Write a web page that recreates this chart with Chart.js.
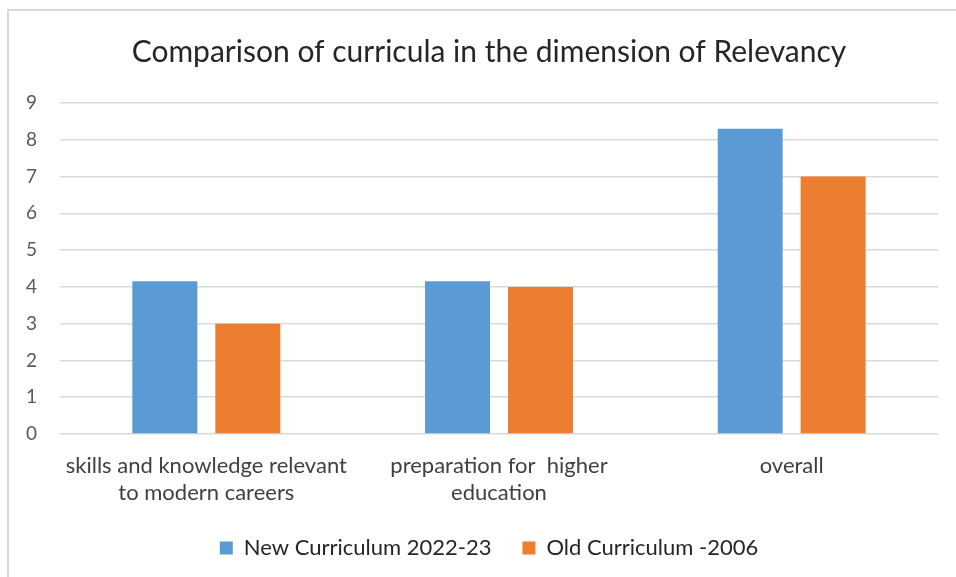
<!DOCTYPE html>
<html>
<head>
<meta charset="utf-8">
<script src="https://cdn.jsdelivr.net/npm/chart.js@4"></script>
<style>
  html, body { margin: 0; padding: 0; background: #fff; }
  #wrap { position: relative; width: 956px; height: 577px; overflow: hidden; }
  #frame {
    position: absolute; left: 7px; top: 9px; width: 980px; height: 600px;
    border: 2px solid #d9d9d9; box-sizing: border-box; pointer-events: none;
  }
  canvas { position: absolute; left: 0; top: 0; }
</style>
</head>
<body>
<div id="wrap">
  <canvas class="chart" width="956" height="577"></canvas>
  <div id="frame"></div>
</div>
<script>
  let categories = [
    ["skills and knowledge relevant", "to modern careers"],
    ["preparation for  higher", "education"],
    "overall",
  ];
  let newCurriculum = [4.15, 4.15, 8.3];
  let oldCurriculum = [3, 4, 7];
  let seriesNames = ["New Curriculum 2022-23", "Old Curriculum -2006"];
  let yTicks = [0, 1, 2, 3, 4, 5, 6, 7, 8, 9];

  let fontFamily = "Lato, 'Open Sans', sans-serif";

  let canvasElement = document.querySelector(".chart");
  let config = {
    type: "bar",
    data: {
      labels: categories,
      datasets: [
        {
          label: seriesNames[0],
          data: newCurriculum,
          backgroundColor: "#5b9bd5",
          categoryPercentage: 0.567,
          barPercentage: 0.783,
        },
        {
          label: seriesNames[1],
          data: oldCurriculum,
          backgroundColor: "#ed7d31",
          categoryPercentage: 0.567,
          barPercentage: 0.783,
        },
      ],
    },
    options: {
      responsive: false,
      animation: false,
      events: [],
      layout: { padding: { left: 40, right: 18, top: 0, bottom: 8 } },
      plugins: {
        title: {
          display: true,
          text: "Comparison of curricula in the dimension of Relevancy",
          color: "#262626",
          font: { family: fontFamily, size: 30, weight: "normal" },
          padding: { top: 34, bottom: 33 },
        },
        legend: {
          position: "bottom",
          labels: {
            color: "#262626",
            font: { family: fontFamily, size: 22 },
            boxWidth: 13,
            boxHeight: 13,
            padding: 31,
          },
        },
        tooltip: { enabled: false },
      },
      scales: {
        y: {
          min: 0,
          max: 9,
          afterBuildTicks: (scale) => {
            scale.ticks = yTicks.map((v) => ({ value: v }));
          },
          afterFit: (scale) => {
            scale.width = 20;
          },
          ticks: {
            // mirrored labels are not clipped to the narrow axis box
            mirror: true,
            color: "#595959",
            font: { family: fontFamily, size: 19 },
            padding: -34,
          },
          grid: { color: "#d9d9d9", lineWidth: 1.5, drawTicks: false },
          border: { display: false },
        },
        x: {
          afterFit: (scale) => {
            scale.height = 72;
          },
          ticks: {
            color: "#404040",
            font: { family: fontFamily, size: 22 },
            padding: 11,
            maxRotation: 0,
            autoSkip: false,
          },
          grid: { display: false },
          border: { display: false },
        },
      },
    },
  };

  let mainChart = new Chart(canvasElement, config);
</script>
</body>
</html>
